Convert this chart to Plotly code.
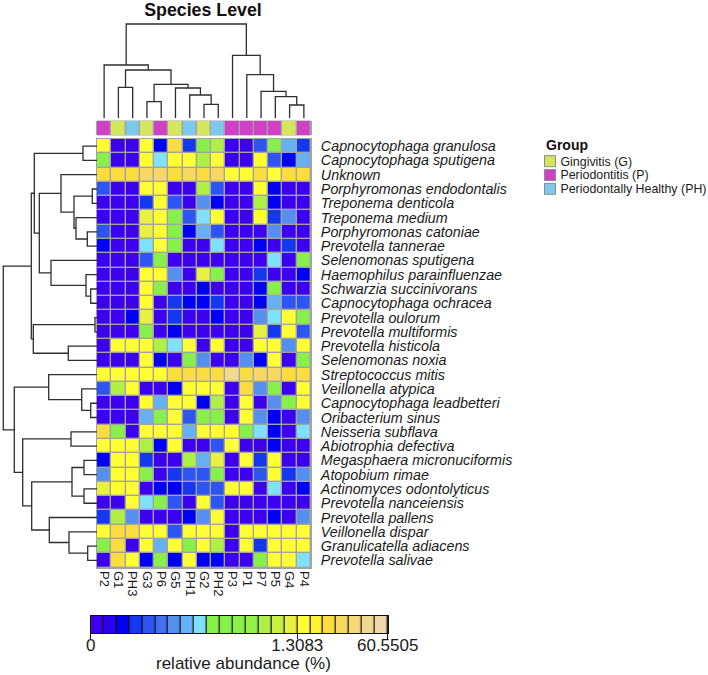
import plotly.graph_objects as go

W, H = 708, 675

samples = ["P2","G1","PH3","G3","P6","G5","PH1","G2","PH2","P3","P1","P7","P5","G4","P4"]
sample_groups = [1,0,2,0,1,0,2,0,2,1,1,1,1,0,1]
group_names = ["Gingivitis (G)", "Periodontitis (P)", "Periodontally Healthy (PH)"]
group_colors = ["#d3e65c", "#cf40c6", "#7cc8ee"]

species = ["Capnocytophaga granulosa","Capnocytophaga sputigena","Unknown","Porphyromonas endodontalis",
 "Treponema denticola","Treponema medium","Porphyromonas catoniae","Prevotella tannerae","Selenomonas sputigena",
 "Haemophilus parainfluenzae","Schwarzia succinivorans","Capnocytophaga ochracea","Prevotella oulorum",
 "Prevotella multiformis","Prevotella histicola","Selenomonas noxia","Streptococcus mitis","Veillonella atypica",
 "Capnocytophaga leadbetteri","Oribacterium sinus","Neisseria subflava","Abiotrophia defectiva",
 "Megasphaera micronuciformis","Atopobium rimae","Actinomyces odontolyticus","Prevotella nanceiensis",
 "Prevotella pallens","Veillonella dispar","Granulicatella adiacens","Prevotella salivae"]

# abundance bin of each cell, one letter per sample
abundance_rows = ["kaakblchiaadhfc","haakgkkikaakdbf","lllmmlmlmkklkll","daakkaaidaakbaa","aaackdaebaaibaa",
 "aaajkhdgkaakcea","daajkhbfdaaaeaa","baagkhaagaabaca","aaadhaaaaaaagah","aaakkeajhaacaab","aaakhaabaaabhaa",
 "aaakacbbcaabfdd","aabjacaabaaegkh","aaahabaaaaajckd","akkkigkakaakkek","aaakbaheaaebkah","kkkkkllllnlmmll",
 "dikaabkkkalehak","aaakfkkbiakaehk","aaafhkdhhakebae","lhakkkfkkkhgbag","kkkibkaadkaabaa","bkkcaaifjakckaa",
 "ekkhacddhaadkce","jkkabbcddkkagab","aakghdakdaaaaaa","cieaaabekaaabae","kllkkdkkkakkkkk","hlakfkhkiakckkk",
 "alkbhbkbbaahkkg"]
bin_of_letter = dict(a=0,b=2,c=3,d=4,e=6,f=7,g=8,h=10,i=13,j=15,k=16,l=18,m=19,n=21)

palette = ["#3c00ee","#2a00f0","#0000f5","#1438f0","#2d55f5","#4070f5","#5590f0","#66b0f5","#80e0ff",
 "#88f04a","#88f04a","#8af04c","#94f048","#aef044","#c8f040","#e8f040","#ffff33","#fff233","#fbdd40",
 "#f8d860","#f5d878","#f3d890","#f2d8a8"]
bar_ticks = [-0.5, 15.5, 22.5]
bar_labels = ["0", "1.3083", "60.5505"]

# dendrograms: (left, right, merge height); integers are leaves
row_tree = (
 (
  (((0,1,14),
    ((2,((3,4,4.7),(5,(6,7,9.7),21),23),36),
     (8,(9,(10,11,6.3),11),46),57.7),62.7),
   ((12,13,2),(14,15,28.7),63.7),65.7),
  ((16,(17,(18,19,6.3),15.3),48.3),
   ((20,21,26),
    (((22,23,13),(24,25,13),25),
     (26,(27,(28,29,9.3),28),47.7),65.3),74.3),82.7),
  93.7))
col_tree = (
 (0,((1,2,31),((3,4,16.7),(5,(6,(7,8,14),23.3),30.3),34),48.3),53.3),
 (9,(10,(11,(12,(13,14,13.3),21.6),27),43.6),63),
 94.3)

def dx(a, b): return [a / W, b / W]
def dy(top, bottom): return [1 - bottom / H, 1 - top / H]

def tree_lines(node):
    """returns position, height and the polyline coordinates of the subtree"""
    if isinstance(node, int):
        return node, 0, [], []
    p1, h1, a1, b1 = tree_lines(node[0])
    p2, h2, a2, b2 = tree_lines(node[1])
    h = node[2]
    a = [p1, p1, p2, p2, None]
    hts = [h1, h, h, h2, None]
    return (p1 + p2) / 2, h, a1 + a2 + a, b1 + b2 + hts

X0, X1, Y0, Y1 = 97.0, 311.0, 139.0, 567.5
colorscale = []
for i, c in enumerate(palette):
    colorscale += [[i / len(palette), c], [(i + 1) / len(palette), c]]

fig = go.Figure()

# main heatmap
z = [[bin_of_letter[ch] for ch in r] for r in abundance_rows]
fig.add_trace(go.Heatmap(z=z, x=samples, y=species, colorscale=colorscale, zmin=-0.5, zmax=22.5,
                         showscale=False, xgap=1.4, ygap=1.4, xaxis="x", yaxis="y",
                         hovertemplate="%{y}<br>%{x}<extra></extra>"))
# sample group strip
strip_scale = []
for i, c in enumerate(group_colors):
    strip_scale += [[i / 3, c], [(i + 1) / 3, c]]
fig.add_trace(go.Heatmap(z=[sample_groups], x=samples, y=["Group"], colorscale=strip_scale, zmin=-0.5, zmax=2.5,
                         showscale=False, xgap=1.4, xaxis="x2", yaxis="y2", hoverinfo="skip"))
# top dendrogram
_, _, px, ph = tree_lines(col_tree)
fig.add_trace(go.Scatter(x=px, y=ph, mode="lines", line=dict(color="#2e2e2e", width=1.3), xaxis="x3", yaxis="y3", hoverinfo="skip"))
# left dendrogram
_, _, px, ph = tree_lines(row_tree)
fig.add_trace(go.Scatter(x=ph, y=px, mode="lines", line=dict(color="#2e2e2e", width=1.3), xaxis="x4", yaxis="y4", hoverinfo="skip"))
# group key
for name, c in zip(group_names, group_colors):
    fig.add_trace(go.Scatter(x=[0], y=[name], mode="markers", xaxis="x5", yaxis="y5", hoverinfo="skip",
                             marker=dict(symbol="square", size=11, color=c, line=dict(color="#8a8a8a", width=1))))
# colour key
fig.add_trace(go.Heatmap(z=[list(range(len(palette)))], x=list(range(len(palette))), y=["bar"], colorscale=colorscale,
                         zmin=-0.5, zmax=22.5, showscale=False, xgap=1.2, xaxis="x6", yaxis="y6", hoverinfo="skip"))

font = "Liberation Sans, Arial, sans-serif"
hidden = dict(showgrid=False, zeroline=False, showticklabels=False, ticks="", showline=False, automargin=False)
n_s, n_r = len(samples), len(species)
layout = dict(
    template="none",
    width=W, height=H, autosize=False, showlegend=False, margin=dict(l=0, r=0, t=0, b=0, pad=0, autoexpand=False),
    paper_bgcolor="white", plot_bgcolor="white", font=dict(family=font, color="#1a1a1a"),
    title=dict(text="<b>Species Level</b>", x=203 / W, xanchor="center", y=1 - 10 / H, yanchor="middle",
               font=dict(size=17.8, family=font, color="#111")),
    xaxis=dict(domain=dx(X0, X1), type="category", tickmode="array", tickvals=samples, ticktext=samples, tickangle=90,
               showgrid=False, zeroline=False, ticks="", tickfont=dict(size=13),
               showline=True, linecolor="#a3a3a3", linewidth=1, mirror=True, automargin=False, anchor="y"),
    yaxis=dict(domain=dy(Y0, Y1), type="category", autorange="reversed", side="right", anchor="x", tickmode="array",
               tickvals=species, ticktext=species, showgrid=False, zeroline=False, ticks="outside", ticklen=6,
               tickcolor="white", tickfont=dict(size=14.3, style="italic"), automargin=False,
               showline=True, linecolor="#a3a3a3", linewidth=1, mirror=True),
    xaxis2=dict(domain=dx(X0, X1), type="category", anchor="y2", **hidden),
    yaxis2=dict(domain=dy(121, 135), anchor="x2", type="category", showline=True, linecolor="#a3a3a3", mirror=True,
                showgrid=False, zeroline=False, showticklabels=False, ticks="", automargin=False),
    xaxis3=dict(domain=dx(X0, X1), range=[-0.5, n_s - 0.5], anchor="y3", **hidden),
    yaxis3=dict(domain=dy(0, 118.3), range=[0, 118.3], anchor="x3", **hidden),
    xaxis4=dict(domain=dx(0, 97), range=[97, 0], anchor="y4", **hidden),
    yaxis4=dict(domain=dy(Y0, Y1), range=[n_r - 0.5, -0.5], anchor="x4", **hidden),
    xaxis5=dict(domain=dx(544, 556), range=[-0.5, 0.5], anchor="y5", **hidden),
    yaxis5=dict(domain=dy(152, 198), type="category", autorange="reversed", side="right", anchor="x5",
                tickmode="array", tickvals=group_names, ticktext=group_names, showgrid=False, zeroline=False,
                ticks="outside", ticklen=1, tickcolor="white", tickfont=dict(size=12.4), showline=False, automargin=False),
    xaxis6=dict(domain=dx(90.7, 387.7), range=[-0.5, 22.5], anchor="y6", tickmode="array", tickvals=bar_ticks,
                ticktext=bar_labels, ticks="outside", ticklen=5, tickcolor="#111", tickfont=dict(size=17),
                ticklabelstandoff=-8,
                showgrid=False, zeroline=False, showline=True, linecolor="#111", linewidth=1, mirror=True, automargin=False),
    yaxis6=dict(domain=dy(616, 633), anchor="x6", type="category", showline=True, linecolor="#111", linewidth=1,
                mirror=True, showgrid=False, zeroline=False, showticklabels=False, ticks="", automargin=False),
    annotations=[dict(text="<b>Group</b>", xref="paper", yref="paper", x=544 / W, y=1 - 145 / H, xanchor="left",
                      yanchor="middle", showarrow=False, font=dict(size=14, family=font, color="#111")),
                 dict(text="relative abundance (%)", xref="paper", yref="paper", x=243.5 / W, y=1 - 663 / H,
                      xanchor="center", yanchor="middle", showarrow=False, font=dict(size=17, family=font, color="#1a1a1a"))],
)
fig.update_layout(**layout)
# cell separators: backgrounds showing through the heatmap gaps
for ax, col in (("", "#a3a3a3"), ("2", "#a3a3a3"), ("6", "#111")):
    fig.add_shape(type="rect", xref=f"x{ax} domain", yref=f"y{ax} domain", x0=0, x1=1, y0=0, y1=1,
                  line=dict(color=col, width=1), layer="below", fillcolor=col)

fig.write_html("out.html", config=dict(displayModeBar=False),
               post_script="document.body.style.margin='0';document.documentElement.style.overflow='hidden';")
